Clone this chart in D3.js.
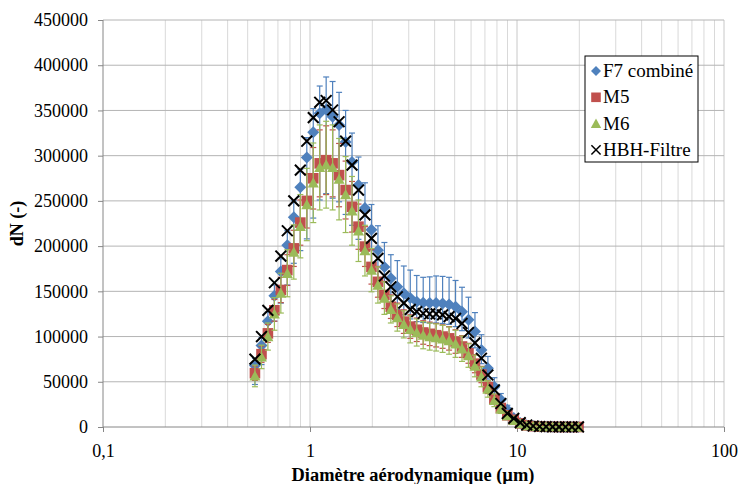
<!DOCTYPE html>
<html>
<head>
<meta charset="utf-8">
<script src="https://cdn.jsdelivr.net/npm/d3@7"></script>
<style>
  body { margin: 0; background: #fff; }
  svg, svg text { font-family: "Liberation Serif", "Times New Roman", serif !important; }
  svg { display: block; }
</style>
</head>
<body>
<svg id="chart" width="740" height="484"></svg>
<script>
// APS channel midpoints (µm)
const diameters = [0.542, 0.583, 0.626, 0.673, 0.723, 0.777, 0.835, 0.898, 0.965, 1.037,
  1.114, 1.197, 1.286, 1.382, 1.486, 1.596, 1.715, 1.843, 1.981, 2.129,
  2.288, 2.458, 2.642, 2.839, 3.051, 3.278, 3.523, 3.786, 4.068, 4.371,
  4.698, 5.048, 5.425, 5.829, 6.264, 6.732, 7.234, 7.774, 8.354, 8.977,
  9.647, 10.37, 11.14, 11.97, 12.86, 13.82, 14.86, 15.96, 17.15, 18.43, 19.81];

const f7 = [68000, 90000, 117000, 145000, 172000, 201000, 232000, 265000, 298000, 326000,
  347000, 351000, 343000, 334000, 315000, 293000, 267500, 242000, 218000, 195500,
  177000, 164500, 155000, 148000, 142500, 138500, 137500, 137000, 137000, 136500,
  135500, 133000, 127500, 118500, 105500, 85000, 65000, 44500, 30000, 19000,
  10000, 4500, 2000, 1000, 500, 300, 150, 90, 50, 30, 20];
const f7Plus = [8000, 9000, 10000, 12000, 14000, 16000, 18000, 20000, 22000, 26000,
  30000, 36000, 39000, 36000, 35000, 32000, 31000, 28000, 28000, 27000,
  27000, 26000, 29000, 30000, 31000, 29000, 28000, 29000, 30000, 30000,
  30000, 29000, 27000, 25000, 21000, 17000, 13000, 10000, 7000, 5000,
  3000, 1500, 700, 300, 150, 80, 50, 30, 20, 10, 10];
const f7Minus = [21000, 21000, 21000, 28000, 35000, 44000, 51000, 70000, 90000, 95000,
  96000, 93000, 90000, 85000, 80000, 70000, 60000, 50000, 42000, 36000,
  32000, 28000, 25000, 24000, 23000, 22000, 22000, 22000, 22000, 22000,
  22000, 22000, 21000, 20000, 18000, 15000, 12000, 9000, 6000, 4000,
  2500, 1200, 600, 300, 150, 80, 50, 30, 20, 10, 10];

const m5 = [59500, 80500, 103500, 129000, 151500, 173500, 197500, 226000, 250000, 275000,
  291500, 295000, 291500, 278500, 262000, 243500, 221500, 199500, 177000, 160500,
  146000, 133000, 124000, 116500, 111000, 107500, 104500, 103000, 101500, 100000,
  98000, 94500, 89000, 81500, 70000, 58000, 44000, 31000, 21000, 13000,
  8000, 4000, 1800, 900, 450, 250, 130, 80, 45, 30, 20];
const m5Err = [8000, 9000, 10000, 12000, 14000, 17000, 20000, 25000, 30000, 34000,
  37000, 38000, 37000, 35000, 32000, 28000, 25000, 22000, 19000, 17000,
  15000, 13000, 13000, 13000, 13000, 13000, 13000, 13000, 13000, 13000,
  13000, 13000, 12000, 11000, 10000, 9000, 7000, 5000, 4000, 3000,
  2000, 1000, 500, 250, 120, 60, 40, 20, 10, 10, 10];

const m6 = [56500, 77500, 100000, 125000, 148000, 170000, 193500, 222000, 246000, 270000,
  287000, 290000, 287000, 274000, 257000, 239000, 217000, 195000, 173500, 157000,
  142500, 130000, 121000, 113500, 108000, 104500, 101500, 100000, 99000, 97500,
  95500, 92000, 86500, 79000, 67500, 55500, 42000, 29500, 20000, 12500,
  7500, 3700, 1600, 800, 400, 220, 120, 70, 40, 25, 15];
const m6Err = [12000, 13000, 15000, 18000, 22000, 26000, 30000, 35000, 40000, 44000,
  47000, 48000, 47000, 45000, 42000, 38000, 34000, 28000, 24000, 20000,
  18000, 15000, 15000, 15000, 15000, 15000, 15000, 15000, 15000, 15000,
  15000, 15000, 14000, 13000, 12000, 11000, 9000, 7000, 5000, 3500,
  2500, 1200, 600, 300, 150, 80, 40, 20, 10, 10, 10];

const hbh = [75000, 100000, 129000, 159500, 189000, 217000, 250000, 284000, 316000, 342000,
  359000, 361000, 350500, 337500, 316000, 289500, 262000, 234500, 208500, 186500,
  167000, 155000, 144000, 137000, 130000, 127500, 125500, 125000, 125000, 124000,
  122000, 120000, 114500, 104500, 93000, 76000, 57500, 41000, 26000, 15000,
  9500, 4800, 2200, 1100, 550, 300, 170, 100, 60, 40, 25];

const yTicks = [0, 50000, 100000, 150000, 200000, 250000, 300000, 350000, 400000, 450000];
const xTicks = [0.1, 1, 10, 100];
const xTickLabels = ["0,1", "1", "10", "100"];
const seriesNames = ["F7 combiné", "M5", "M6", "HBH-Filtre"];

const BLUE = "#4F81BD";
const RED = "#C0504D";
const GREEN = "#9BBB59";
const BLACK = "#000000";
const FONT = "'Liberation Serif', 'Times New Roman', serif";

(() => {
  const svg = d3.select("#chart");
  const plotLeft = 103, plotRight = 724, plotTop = 20, plotBottom = 427;

  const x = d3.scaleLog().domain([0.1, 100]).range([plotLeft, plotRight]);
  const y = d3.scaleLinear().domain([0, 450000]).range([plotBottom, plotTop]);

  // minor vertical grid (2..9 per decade)
  const minor = [];
  [0.1, 1, 10].forEach(dec => {
    for (let k = 2; k <= 9; k++) minor.push(dec * k);
  });
  svg.append("g")
    .selectAll("line")
    .data(minor)
    .join("line")
    .attr("x1", d => x(d)).attr("x2", d => x(d))
    .attr("y1", plotTop).attr("y2", plotBottom)
    .attr("stroke", "#d9d9d9");

  // decade grid
  svg.append("g")
    .selectAll("line")
    .data(xTicks.slice(1))
    .join("line")
    .attr("x1", d => x(d)).attr("x2", d => x(d))
    .attr("y1", plotTop).attr("y2", plotBottom)
    .attr("stroke", "#c8c8c8");

  // horizontal grid
  svg.append("g")
    .selectAll("line")
    .data(yTicks.slice(1))
    .join("line")
    .attr("x1", plotLeft).attr("x2", plotRight)
    .attr("y1", d => y(d)).attr("y2", d => y(d))
    .attr("stroke", "#b4b4b4");

  // axes
  const gy = svg.append("g")
    .attr("transform", `translate(${plotLeft},0)`)
    .call(d3.axisLeft(y).tickValues(yTicks).tickSize(5).tickPadding(10).tickFormat(d3.format("d")));
  const gx = svg.append("g")
    .attr("transform", `translate(0,${plotBottom})`)
    .call(d3.axisBottom(x).tickValues(xTicks).tickSize(5).tickPadding(12)
      .tickFormat((d, i) => xTickLabels[i]));

  [gx, gy].forEach(g => {
    g.attr("font-family", null).attr("font-size", null);
    g.select(".domain").attr("stroke", "#868686");
    g.selectAll(".tick line").attr("stroke", "#868686");
    g.selectAll(".tick text")
      .attr("fill", "#000")
      .style("font-family", FONT)
      .style("font-size", "18px");
  });
  gy.select(".domain").attr("d", `M0,${plotTop}V${plotBottom}`);
  gx.select(".domain").attr("d", `M${plotLeft},0H${plotRight}`);

  // axis titles
  svg.append("text")
    .attr("x", 413).attr("y", 481)
    .attr("text-anchor", "middle")
    .style("font-family", FONT)
    .style("font-weight", "bold")
    .style("font-size", "18.4px")
    .text("Diamètre aérodynamique (µm)");

  svg.append("text")
    .attr("transform", `translate(23,${(plotTop + plotBottom) / 2}) rotate(-90)`)
    .attr("text-anchor", "middle")
    .style("font-family", FONT)
    .style("font-weight", "bold")
    .style("font-size", "18px")
    .text("dN (-)");

  const pts = diameters.map((d, i) => i);
  const plot = svg.append("g");

  function errorBars(values, plus, minus, color) {
    const g = plot.append("g").attr("stroke", color).attr("stroke-width", 1.2);
    pts.forEach(i => {
      const cx = x(diameters[i]);
      const y1 = y(values[i] + plus[i]);
      const y2 = y(Math.max(0, values[i] - minus[i]));
      g.append("line").attr("x1", cx).attr("x2", cx).attr("y1", y1).attr("y2", y2);
      g.append("line").attr("x1", cx - 3).attr("x2", cx + 3).attr("y1", y1).attr("y2", y1);
      g.append("line").attr("x1", cx - 3).attr("x2", cx + 3).attr("y1", y2).attr("y2", y2);
    });
  }

  // marker shapes (half-size r)
  const shapes = {
    diamond: r => `M0,${-r}L${r},0L0,${r}L${-r},0Z`,
    square: r => `M${-r},${-r}H${r}V${r}H${-r}Z`,
    triangle: r => `M0,${-r}L${r},${r * 0.85}L${-r},${r * 0.85}Z`,
    cross: r => `M${-r},${-r}L${r},${r}M${r},${-r}L${-r},${r}`
  };

  function markers(values, shape, r, fill, stroke) {
    plot.append("g")
      .selectAll("path")
      .data(pts)
      .join("path")
      .attr("transform", i => `translate(${x(diameters[i])},${y(values[i])})`)
      .attr("d", shapes[shape](r))
      .attr("fill", fill)
      .attr("stroke", stroke || "none")
      .attr("stroke-width", stroke ? 2 : 0);
  }

  errorBars(f7, f7Plus, f7Minus, BLUE);
  markers(f7, "diamond", 6, BLUE);
  errorBars(m5, m5Err, m5Err, RED);
  markers(m5, "square", 5.3, RED);
  errorBars(m6, m6Err, m6Err, GREEN);
  markers(m6, "triangle", 5.5, GREEN);
  markers(hbh, "cross", 5.4, "none", BLACK);

  // legend
  const legend = svg.append("g").attr("transform", "translate(585,56)");
  legend.append("rect")
    .attr("width", 113).attr("height", 106)
    .attr("fill", "#fff").attr("stroke", "#000");
  const legendSyms = [
    { shape: "diamond", r: 5, fill: BLUE },
    { shape: "square", r: 4.8, fill: RED },
    { shape: "triangle", r: 5.2, fill: GREEN },
    { shape: "cross", r: 4.6, fill: "none", stroke: BLACK }
  ];
  seriesNames.forEach((name, i) => {
    const cy = 15 + i * 26.3;
    const s = legendSyms[i];
    legend.append("path")
      .attr("transform", `translate(11,${cy})`)
      .attr("d", shapes[s.shape](s.r))
      .attr("fill", s.fill)
      .attr("stroke", s.stroke || "none")
      .attr("stroke-width", s.stroke ? 1.5 : 0);
    legend.append("text")
      .attr("x", 18).attr("y", cy + 6)
      .style("font-family", FONT)
      .style("font-size", "19px")
      .text(name);
  });
})();
</script>
</body>
</html>
